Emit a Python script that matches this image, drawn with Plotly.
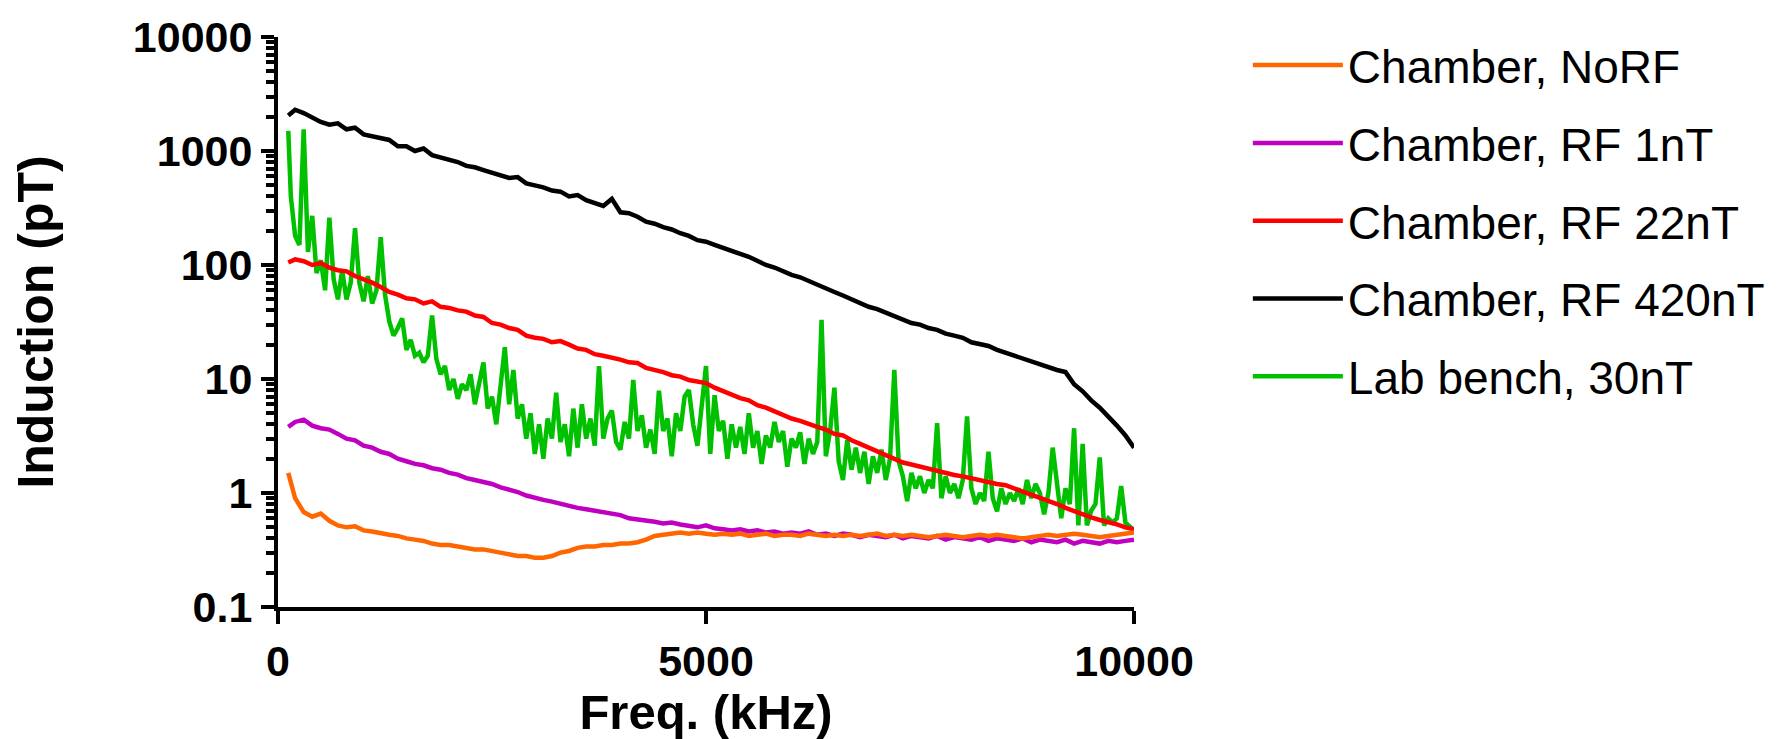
import plotly.graph_objects as go

# ---------------- data ----------------
series_names = ["Chamber, NoRF", "Chamber, RF 1nT", "Chamber, RF 22nT",
                "Chamber, RF 420nT", "Lab bench, 30nT"]
series_colors = ["#FF6600", "#C000C0", "#FF0000", "#000000", "#00C000"]

# chamber measurements sampled every 100 kHz (first sample at 120 kHz)
freq_khz = [120] + list(range(200, 10001, 100))

norf_pT = [1.5,
    0.9, 0.68, 0.62, 0.66, 0.57, 0.52, 0.5, 0.51, 0.47, 0.46,
    0.44, 0.43, 0.42, 0.4, 0.39, 0.38, 0.36, 0.35, 0.35, 0.34,
    0.33, 0.32, 0.32, 0.31, 0.3, 0.29, 0.28, 0.28, 0.27, 0.27,
    0.28, 0.3, 0.31, 0.33, 0.34, 0.34, 0.35, 0.35, 0.36, 0.36,
    0.37, 0.39, 0.42, 0.43, 0.44, 0.45, 0.44, 0.45, 0.44, 0.43,
    0.44, 0.43, 0.44, 0.42, 0.43, 0.44, 0.42, 0.43, 0.43, 0.42,
    0.44, 0.43, 0.42, 0.43, 0.42, 0.43, 0.42, 0.43, 0.44, 0.42,
    0.43, 0.42, 0.43, 0.42, 0.41, 0.42, 0.43, 0.42, 0.41, 0.42,
    0.43, 0.42, 0.43, 0.42, 0.41, 0.4, 0.41, 0.42, 0.43, 0.42,
    0.43, 0.44, 0.43, 0.42, 0.41, 0.42, 0.43, 0.44, 0.45]

rf1_pT = [3.8,
    4.2, 4.4, 3.9, 3.7, 3.6, 3.3, 3.0, 2.9, 2.6, 2.5,
    2.3, 2.2, 2.0, 1.9, 1.8, 1.75, 1.65, 1.6, 1.5, 1.45,
    1.35, 1.3, 1.25, 1.2, 1.12, 1.08, 1.02, 0.95, 0.9, 0.87,
    0.84, 0.8, 0.77, 0.74, 0.72, 0.7, 0.68, 0.66, 0.64, 0.6,
    0.59, 0.57, 0.56, 0.54, 0.55, 0.53, 0.51, 0.5, 0.52, 0.49,
    0.48, 0.47, 0.48, 0.46, 0.47, 0.45, 0.46, 0.44, 0.45, 0.44,
    0.46, 0.43, 0.44, 0.42, 0.44, 0.43, 0.41, 0.43, 0.42, 0.41,
    0.43, 0.4, 0.42, 0.41, 0.4, 0.42, 0.39, 0.41, 0.4, 0.39,
    0.41, 0.38, 0.4, 0.39, 0.38, 0.4, 0.37, 0.39, 0.38, 0.37,
    0.39, 0.36, 0.38, 0.37, 0.36, 0.38, 0.37, 0.38, 0.39]

rf22_pT = [105,
    112, 108, 100, 104, 95, 90, 88, 80, 75, 70,
    64, 58, 55, 51, 50, 46, 48, 43, 42, 40,
    39, 36, 35, 31, 30, 28, 27, 24, 23, 22.5,
    21, 21.5, 20, 18.5, 18, 16.5, 16, 15.5, 14.8, 14,
    13.8, 12.5, 12, 11.5, 10.8, 10.5, 9.8, 9.4, 9.2, 8.4,
    7.8, 7.3, 6.8, 6.5, 5.9, 5.6, 5.2, 4.9, 4.5, 4.3,
    4.0, 3.8, 3.6, 3.3, 3.2, 2.9, 2.7, 2.5, 2.3, 2.15,
    2.0, 1.85, 1.78, 1.7, 1.62, 1.55, 1.5, 1.44, 1.4, 1.34,
    1.3, 1.25, 1.2, 1.17, 1.1, 1.03, 0.97, 0.92, 0.87, 0.8,
    0.74, 0.69, 0.65, 0.61, 0.58, 0.56, 0.53, 0.5, 0.48]

rf420_pT = [2050,
    2300, 2150, 1950, 1800, 1700, 1750, 1550, 1600, 1400, 1350,
    1300, 1250, 1100, 1100, 1000, 1050, 920, 880, 830, 800,
    740, 720, 680, 650, 620, 580, 590, 520, 500, 480,
    450, 440, 400, 410, 370, 350, 330, 380, 290, 285,
    265, 240, 230, 215, 205, 190, 180, 165, 160, 150,
    140, 132, 125, 118, 108, 100, 95, 88, 82, 78,
    72, 68, 62, 58, 54, 50, 47, 43, 41, 38,
    36, 33, 31, 30, 28, 27, 25, 24, 23, 21,
    20, 19.5, 18, 17, 16, 15, 14, 13.5, 12.5, 12,
    11.5, 9, 7.8, 6.5, 5.6, 4.7, 3.9, 3.2, 2.5]

# lab bench measurement sampled every 50 kHz (first sample at 120 kHz)
bench_freq_khz = [120] + list(range(150, 10001, 50))
bench_pT = [1500, 400,
    180, 150, 1550, 130, 270, 85, 110, 60, 260, 75,
    50, 90, 50, 70, 210, 70, 48, 80, 46, 60,
    175, 55, 32, 24, 28, 34, 18, 22, 16, 17,
    14, 16, 36, 15, 11, 13, 8, 10, 6.7, 9,
    8, 11, 6, 9, 14, 5.5, 7, 4, 8, 19,
    6, 12, 4.5, 6, 3, 5, 2.2, 4, 2, 4.5,
    3, 7.6, 2.8, 4, 2.1, 5.5, 2.5, 6, 3, 4.5,
    2.6, 13, 3, 4.5, 5.3, 2.8, 2.4, 4.2, 3, 9.8,
    3.5, 4.8, 2.5, 3.6, 2.2, 7.9, 3.5, 4.5, 2.1, 5,
    3.5, 7, 8, 4, 2.6, 6, 13, 2.2, 7.2, 3.5,
    4.3, 2, 4, 2.5, 3.8, 2.2, 5, 2.5, 3.5, 1.8,
    3.2, 2.5, 4.2, 2.8, 3.5, 1.7, 3, 2.5, 3.4, 1.8,
    3, 2.2, 2.8, 33, 2.1, 3.5, 8.4, 1.9, 1.3, 2.9,
    1.6, 2.5, 1.5, 2.3, 1.2, 2.1, 1.5, 2.4, 1.3, 2,
    12, 1.9, 1.4, 0.85, 1.5, 1.1, 1.4, 1.0, 1.3, 1.1,
    4.1, 0.9, 1.4, 1.0, 1.2, 0.9, 1.3, 4.7, 1.1, 0.8,
    1.0, 0.85, 2.3, 0.9, 0.69, 1.1, 0.8, 1.0, 0.85, 1.1,
    0.8, 1.3, 0.9, 1.2, 1.0, 0.65, 1.0, 2.5, 1.3, 0.6,
    1.1, 0.8, 3.7, 0.52, 2.7, 0.52, 0.7, 0.8, 2.05, 0.52,
    0.6, 0.55, 0.6, 1.15, 0.55, 0.5, 0.47]

x_tick_vals = [0, 5000, 10000]
x_tick_text = ["0", "5000", "10000"]
y_tick_vals = [0.1, 1, 10, 100, 1000, 10000]
y_tick_text = ["0.1", "1", "10", "100", "1000", "10000"]
y_minor_vals = [k * 10.0 ** e for e in range(-1, 4) for k in range(2, 10)]

# ---------------- figure ----------------
FONT = "Liberation Sans, Arial, sans-serif"
xs = [freq_khz, freq_khz, freq_khz, freq_khz, bench_freq_khz]
ys = [norf_pT, rf1_pT, rf22_pT, rf420_pT, bench_pT]

fig = go.Figure()
# draw lab bench first so the chamber traces sit on top (as in the reference)
for i in [4, 3, 2, 1, 0]:
    n = min(len(xs[i]), len(ys[i]))
    fig.add_trace(go.Scatter(
        x=xs[i][:n], y=ys[i][:n], mode="lines", name=series_names[i],
        legendgroup=f"g{i}", legendrank=i + 1,
        line=dict(color=series_colors[i], width=4.5),
    ))

axis_common = dict(
    showline=True, linecolor="black", linewidth=4, mirror=False,
    ticks="outside", tickcolor="black", tickwidth=4, ticklen=13,
    showgrid=False, zeroline=False,
    tickfont=dict(family=FONT, size=43, color="black", weight="bold"),
)

fig.update_layout(
    width=1789, height=739,
    margin=dict(l=270, r=663, t=29, b=140, autoexpand=False),
    paper_bgcolor="white", plot_bgcolor="white",
    showlegend=True,
    legend=dict(
        x=1.133, xanchor="left",
        yref="container", y=0.972, yanchor="top", maxheight=1,
        font=dict(family=FONT, size=46, color="black"),
        traceorder="grouped", tracegroupgap=15,
        itemwidth=90, bgcolor="rgba(0,0,0,0)",
    ),
    xaxis=dict(
        range=[0, 10000], tickvals=x_tick_vals, ticktext=x_tick_text,
        title=dict(text="Freq. (kHz)", standoff=3,
                   font=dict(family=FONT, size=49, color="black", weight="bold")),
        **axis_common,
    ),
    yaxis=dict(
        type="log", range=[-1, 4], tickvals=y_tick_vals, ticktext=y_tick_text,
        minor=dict(tickvals=y_minor_vals, ticks="outside", ticklen=8,
                   tickwidth=4, tickcolor="black"),
        title=dict(text="Induction (pT)", standoff=64,
                   font=dict(family=FONT, size=50, color="black", weight="bold")),
        **axis_common,
    ),
)

fig.write_html("out.html")
